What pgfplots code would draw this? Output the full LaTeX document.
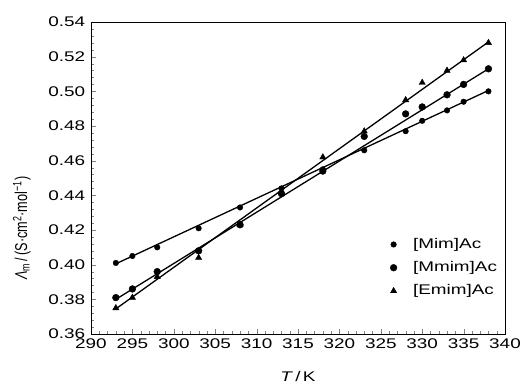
\documentclass[border=0pt]{standalone}
\usepackage{pgfplots}
\pgfplotsset{compat=1.18}
\usepackage{graphicx}
\usepackage{fontspec}
\setmainfont{Liberation Sans}[FakeStretch=1.35]
\newfontfamily\ylab{Liberation Sans}
\begin{document}
\fontsize{14}{17}\selectfont
\begin{tikzpicture}
\path[use as bounding box] (-91pt,-50pt) rectangle (435pt,334pt);
\begin{axis}[
  at={(0pt,0pt)}, anchor=south west,
  scale only axis, width=414pt, height=312pt,
  xmin=290, xmax=340, ymin=0.36, ymax=0.54,
  xtick={290,295,...,340},
  ytick={0.36,0.38,...,0.54},
  minor x tick num=4, minor y tick num=4,
  tick align=inside, xtick pos=bottom, ytick pos=left,
  major tick length=5pt, minor tick length=3pt,
  /pgf/number format/assume math mode=true,
  yticklabel style={/pgf/number format/fixed, /pgf/number format/fixed zerofill, /pgf/number format/precision=2, xshift=-1pt},
  xticklabel style={/pgf/number format/fixed, /pgf/number format/1000 sep={}, yshift=0pt},
  tick label style={font=\fontsize{14}{17}\selectfont},
  xlabel={\textit{T}\,/\,K},
  xlabel style={font=\fontsize{14}{17}\selectfont, at={(axis description cs:0.5,0)}, anchor=center, yshift=-42pt},
  ylabel={\scalebox{1}[1.35]{\ylab\fontsize{12.7}{15}\selectfont{\itshape Λ}\textsubscript{m}\,/\,(S·cm\textsuperscript{2}·mol\textsuperscript{−1})}},
  ylabel style={at={(axis description cs:-0.167,0.339)}, anchor=center},
  axis line style={line width=0.8pt},
  legend style={draw=none, fill=none, at={(axis description cs:0.715,0.32)}, anchor=north west, font=\fontsize{14}{17}\selectfont, row sep=7pt,
    /tikz/every odd column/.append style={column sep=14pt}},
  legend cell align=left,
]
\addplot[only marks, mark=*, mark size=2.8pt, black] coordinates {
(293,0.401)(295,0.405)(298,0.410)(303,0.421)(308,0.433)(313,0.444)(318,0.455)(323,0.466)(328,0.477)(330,0.483)(333,0.489)(335,0.494)(338,0.500)};
\addlegendentry{[Mim]Ac}
\addplot[only marks, mark=*, mark size=3.4pt, black] coordinates {
(293,0.381)(295,0.386)(298,0.396)(303,0.408)(308,0.423)(313,0.441)(318,0.454)(323,0.474)(328,0.487)(330,0.491)(333,0.498)(335,0.504)(338,0.513)};
\addlegendentry{[Mmim]Ac}
\addplot[only marks, mark=triangle*, mark size=3.6pt, black] coordinates {
(293,0.375)(295,0.381)(298,0.393)(303,0.404)(308,0.423)(313,0.442)(318,0.462)(323,0.477)(328,0.495)(330,0.505)(333,0.512)(335,0.518)(338,0.528)};
\addlegendentry{[Emim]Ac}
\addplot[black, line width=1.3pt, forget plot] coordinates {(293,0.4005)(338,0.5005)};
\addplot[black, line width=1.3pt, forget plot] coordinates {(293,0.3800)(338,0.5130)};
\addplot[black, line width=1.3pt, forget plot] coordinates {(293,0.3745)(338,0.5285)};
\end{axis}
\end{tikzpicture}
\end{document}
